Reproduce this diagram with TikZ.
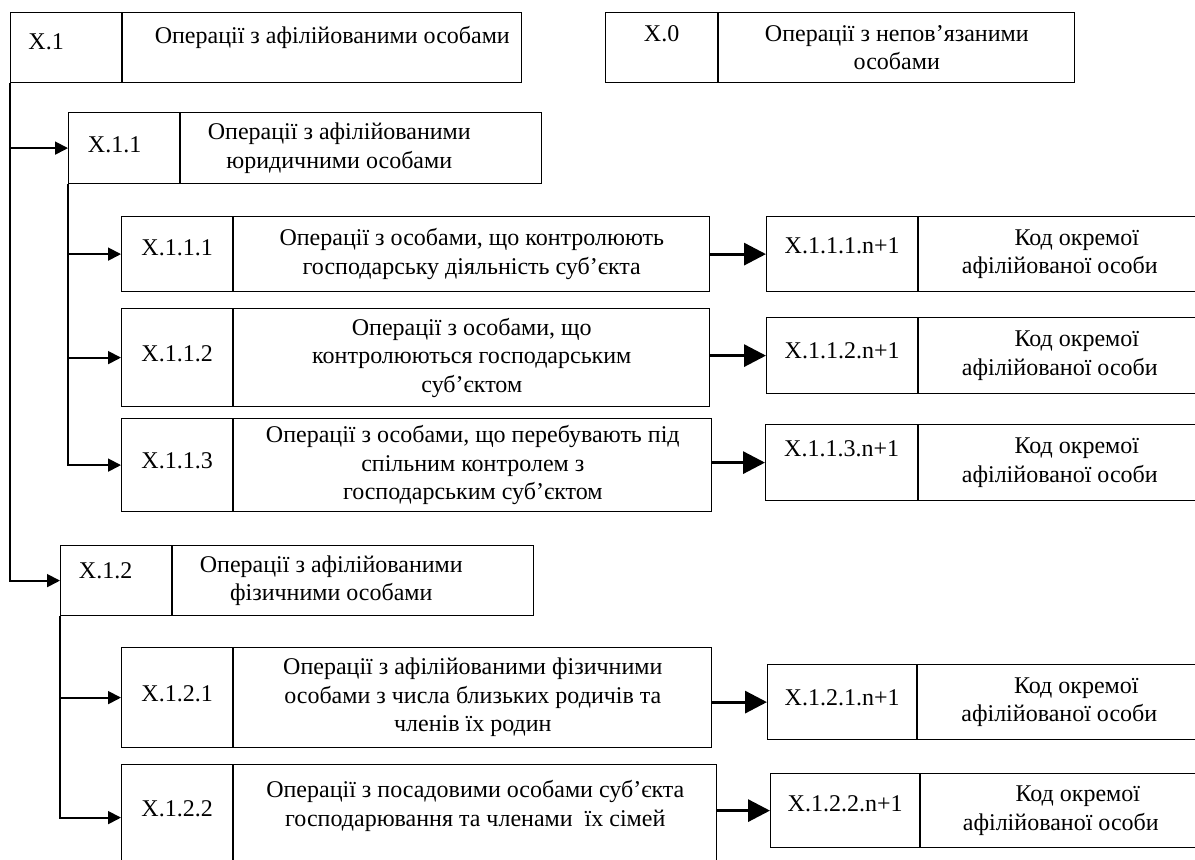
\documentclass[tikz,border=0pt]{standalone}
\usepackage{fontspec}
\setmainfont{Liberation Serif}
\usetikzlibrary{positioning,arrows.meta}

\begin{document}
\begin{tikzpicture}[x=0.5pt,y=-0.5pt,font=\fontsize{12pt}{14.2pt}\selectfont,
  cell/.style={draw,line width=0.6pt,align=center,inner sep=1pt,anchor=north west,minimum height=#1},
  lift/.style={text depth=#1},
  branch/.style={line width=0.9pt,-{Triangle[length=6.5pt,width=6.5pt]}},
  link/.style={line width=1.6pt,-{Triangle[length=11pt,width=11pt]}}]
  \useasboundingbox (0,0) rectangle (1195,859);
  \clip (0,0) rectangle (1195,859);
  % top row
  \node[cell=35pt,minimum width=55.5pt,lift=6pt] (x1) at (10,12) {X.1\hspace*{20pt}};
  \node[cell=35pt,minimum width=199.5pt,lift=12.6pt,right=0pt of x1] (x1t) {\hspace*{10pt}Операції з афілійованими особами};
  \node[cell=35pt,minimum width=56pt,lift=14pt] (x0) at (605,12) {X.0};
  \node[cell=35pt,minimum width=178pt,right=0pt of x0] (x0t) {Операції з непов’язаними\\особами};
  % legal persons
  \node[cell=35.5pt,minimum width=55.5pt,lift=3.5pt] (x11) at (68,112) {X.1.1\hspace*{9.5pt}};
  \node[cell=35.5pt,minimum width=180.5pt,right=0pt of x11] (x11t) {Операції з афілійованими\hspace*{22pt}\\юридичними особами\hspace*{22pt}};
  \node[cell=37.5pt,minimum width=55.5pt,lift=6.5pt] (x111) at (121,216) {X.1.1.1};
  \node[cell=37.5pt,minimum width=238pt,right=0pt of x111] (x111t) {Операції з особами, що контролюють\\господарську діяльність суб’єкта};
  \node[cell=49pt,minimum width=55.5pt,lift=4pt] (x112) at (121,308) {X.1.1.2};
  \node[cell=49pt,minimum width=238pt,right=0pt of x112] (x112t) {Операції з особами, що\\контролюються господарським\\суб’єктом};
  \node[cell=46.5pt,minimum width=55.5pt,lift=4.5pt] (x113) at (121,418) {X.1.1.3};
  \node[cell=46.5pt,minimum width=239pt,right=0pt of x113] (x113t) {Операції з особами, що перебувають під\\спільним контролем з\\господарським суб’єктом};
  % natural persons
  \node[cell=35pt,minimum width=55.5pt,lift=10pt] (x12) at (60,545) {X.1.2\hspace*{10.5pt}};
  \node[cell=35pt,minimum width=180.5pt,right=0pt of x12] (x12t) {Операції з афілійованими\hspace*{22pt}\\фізичними особами\hspace*{22pt}};
  \node[cell=50pt,minimum width=55.5pt,lift=4pt] (x121) at (121,647) {X.1.2.1};
  \node[cell=50pt,minimum width=239pt,right=0pt of x121] (x121t) {Операції з афілійованими фізичними\\особами з числа близьких родичів та\\членів їх родин};
  \node[cell=53pt,minimum width=55.5pt,lift=9.5pt] (x122) at (121,764) {X.1.2.2};
  \node[cell=53pt,minimum width=241.5pt,right=0pt of x122] (x122t) {Операції з посадовими особами суб’єкта\\господарювання та членами\ \ їх сімей\\\mbox{}};
  % codes of single persons
  \node[cell=37.5pt,minimum width=75.5pt,lift=9pt] (r1) at (766,216) {X.1.1.1.n+1};
  \node[cell=37.5pt,minimum width=141pt,right=0pt of r1] (r1t) {\hspace*{17pt}Код окремої\\афілійованої особи};
  \node[cell=38pt,minimum width=75.5pt,lift=5pt] (r2) at (766,317) {X.1.1.2.n+1};
  \node[cell=38pt,minimum width=141pt,right=0pt of r2] (r2t) {\hspace*{17pt}Код окремої\\афілійованої особи};
  \node[cell=38pt,minimum width=76pt,lift=14pt] (r3) at (765,424) {X.1.1.3.n+1};
  \node[cell=38pt,minimum width=141pt,right=0pt of r3] (r3t) {\hspace*{17pt}Код окремої\\афілійованої особи};
  \node[cell=37.5pt,minimum width=74.5pt,lift=4.5pt] (r4) at (767,664) {X.1.2.1.n+1};
  \node[cell=37.5pt,minimum width=141.5pt,right=0pt of r4] (r4t) {\hspace*{17pt}Код окремої\\афілійованої особи};
  \node[cell=37pt,minimum width=74.5pt,lift=7.5pt] (r5) at (770,773) {X.1.2.2.n+1};
  \node[cell=37pt,minimum width=140pt,right=0pt of r5] (r5t) {\hspace*{17pt}Код окремої\\афілійованої особи};
  % tree
  \draw[branch] (x1.south west) |- (x11.west);
  \draw[branch] (x1.south west) |- (x12.west);
  \draw[branch] (x11.south west) |- (x111.west);
  \draw[branch] (x11.south west) |- (x112.west);
  \draw[branch] (x11.south west) |- (x113.west);
  \draw[branch] (x12.south west) |- (x121.west);
  \draw[branch] (x12.south west) |- (x122.west);
  \draw[link] (x111t.east |- r1.west) -- (r1.west);
  \draw[link] (x112t.east |- r2.west) -- (r2.west);
  \draw[link] (x113t.east |- r3.west) -- (r3.west);
  \draw[link] (x121t.east |- r4.west) -- (r4.west);
  \draw[link] (x122t.east |- r5.west) -- (r5.west);
\end{tikzpicture}
\end{document}
